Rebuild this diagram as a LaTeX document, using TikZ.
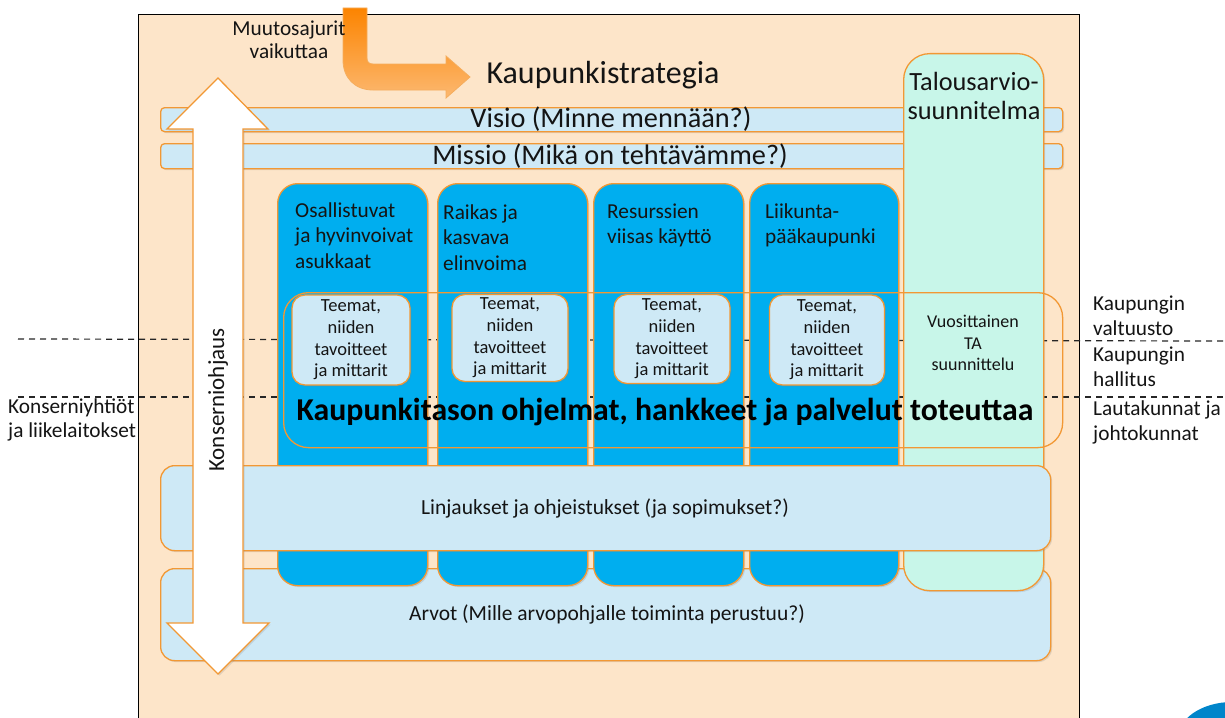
\documentclass[tikz,border=0pt]{standalone}
\usepackage{fontspec}
\setmainfont{Carlito}
\usetikzlibrary{shadows}
\definecolor{peach}{RGB}{253,229,201}
\definecolor{lblue}{RGB}{206,233,246}
\definecolor{cblue}{RGB}{0,174,239}
\definecolor{mint}{RGB}{200,246,233}
\definecolor{orng}{RGB}{242,152,52}
\definecolor{dorng}{RGB}{252,132,0}
\definecolor{lorng}{RGB}{252,184,112}
\definecolor{logoblue}{RGB}{0,133,202}
\definecolor{txt}{RGB}{20,20,20}
\tikzset{
  shad/.style={drop shadow={opacity=0.22,shadow xshift=1.5pt,shadow yshift=-1.5pt}},
  bar/.style={draw=orng, line width=1.3pt, fill=lblue, rounded corners=4pt, shad, text=txt, inner sep=0pt},
  bigbar/.style={draw=orng, line width=1.3pt, fill=lblue, rounded corners=14pt, shad, text=txt, inner sep=0pt},
  colbox/.style={draw=orng, line width=1.3pt, fill=cblue, rounded corners=20pt, shad, inner sep=0pt},
  mintbox/.style={draw=orng, line width=1.3pt, fill=mint, rounded corners=26pt, shad, inner sep=0pt},
  teem/.style={draw=orng, line width=1.3pt, fill=lblue, rounded corners=13pt, shad, align=center, inner sep=0pt, text=txt,
     font=\fontsize{18.5}{21.7}\selectfont},
  coltitle/.style={align=left, inner sep=0pt, text=txt, font=\fontsize{21.3}{25.5}\selectfont},
  lbl/.style={align=left, inner sep=0pt, text=txt, font=\fontsize{21.3}{25}\selectfont},
  dashline/.style={dash pattern=on 6pt off 5pt, line width=1.2pt, draw=black!85},
}
\begin{document}
\begin{tikzpicture}[x=1pt,y=-1pt]
\useasboundingbox (0,0) rectangle (1225,717);
\begin{scope}
\clip (0,0) rectangle (1225,717);
% frame
\node[draw=black, line width=1.3pt, fill=peach, anchor=north west, minimum width=941pt, minimum height=740pt, inner sep=0pt] (frame) at (138,14) {};
% dashed level lines
\coordinate (dl1) at (18,339);
\coordinate (dr1) at (1225,341);
\coordinate (dl2) at (18,397);
\coordinate (dr2) at (1225,397);
\draw[dashline] (dl1) -- (dr1);
\draw[dashline] (dl2) -- (dr2);
% logo fragment
\fill[logoblue] (1232,740) ellipse [x radius=55, y radius=38];
% visio / missio
\node[bar, anchor=north west, minimum width=902pt, minimum height=24pt] (visio) at (160,107) {};
\node[bar, anchor=north west, minimum width=902pt, minimum height=25pt] (missio) at (160,143) {};
\node[text=txt, inner sep=0pt, font=\fontsize{28.3}{32}\selectfont] (visiot) at (611,119) {Visio (Minne mennään?)};
\node[text=txt, inner sep=0pt, font=\fontsize{28.3}{32}\selectfont] (missiot) at (610,156) {Missio (Mikä on tehtävämme?)};
% arvot
\node[bigbar, anchor=north west, minimum width=890pt, minimum height=92pt] (arvot) at (160,568) {};
% columns
\node[colbox, anchor=north west, minimum width=150pt, minimum height=402pt] (c1) at (277,183) {};
\node[colbox, anchor=north west, minimum width=150pt, minimum height=402pt] (c2) at (437,183) {};
\node[colbox, anchor=north west, minimum width=150pt, minimum height=402pt] (c3) at (593,183) {};
\node[colbox, anchor=north west, minimum width=149pt, minimum height=402pt] (c4) at (749,183) {};
\node[mintbox, anchor=north west, minimum width=140pt, minimum height=537pt] (ta) at (903,53) {};
% linjaukset
\node[bigbar, anchor=north west, minimum width=890pt, minimum height=85pt] (linj) at (160,465) {};
\node[text=txt, inner sep=0pt, font=\fontsize{21.5}{25}\selectfont] (linjt) at (605,508) {Linjaukset ja ohjeistukset (ja sopimukset?)};
\node[text=txt, inner sep=0pt, font=\fontsize{21.5}{25}\selectfont] (arvott) at (607,614) {Arvot (Mille arvopohjalle toiminta perustuu?)};
% programmes frame
\node[draw=orng, line width=1.3pt, rounded corners=25pt, anchor=north west, minimum width=779pt, minimum height=155pt, inner sep=0pt] (prog) at (283,292) {};
% column titles
\node[coltitle, anchor=north west] (c1t) at (295,202.5) {Osallistuvat\\ja hyvinvoivat\\asukkaat};
\node[coltitle, anchor=north west] (c2t) at (443,204.5) {Raikas ja\\kasvava\\elinvoima};
\node[coltitle, anchor=north west] (c3t) at (607,203.5) {Resurssien\\viisas käyttö};
\node[coltitle, anchor=north west] (c4t) at (765,203.5) {Liikunta-\\pääkaupunki};
\node[align=center, inner sep=0pt, text=txt, font=\fontsize{26.3}{29}\selectfont, anchor=north] (tat) at (974,72) {Talousarvio-\\suunnitelma};
% teemat
\node[teem, minimum width=118pt, minimum height=90pt] (t1) at (351,340) {Teemat,\\niiden\\tavoitteet\\ja mittarit};
\node[teem, minimum width=116pt, minimum height=87pt] (t2) at (510,338) {Teemat,\\niiden\\tavoitteet\\ja mittarit};
\node[teem, minimum width=116pt, minimum height=89pt] (t3) at (672,339) {Teemat,\\niiden\\tavoitteet\\ja mittarit};
\node[teem, minimum width=115pt, minimum height=90pt] (t4) at (827,340) {Teemat,\\niiden\\tavoitteet\\ja mittarit};
\node[align=center, inner sep=0pt, text=txt, font=\fontsize{18}{21.5}\selectfont] (vta) at (973,343) {Vuosittainen\\TA\\suunnittelu};
\node[inner sep=0pt, text=black, font=\bfseries\fontsize{31.8}{34}\selectfont] (progt) at (665,412) {Kaupunkitason ohjelmat, hankkeet ja palvelut toteuttaa};
% side labels
\node[lbl, anchor=north west] (valt) at (1093,295.5) {Kaupungin\\valtuusto};
\node[lbl, anchor=north west] (hall) at (1093,346.5) {Kaupungin\\hallitus};
\node[lbl, anchor=north west] (laut) at (1093,400.5) {Lautakunnat ja\\johtokunnat};
\node[lbl, anchor=north west, font=\fontsize{21.3}{24}\selectfont] (kons) at (8,398.5) {Konserniyhtiöt\\ja liikelaitokset};
% double arrow
\draw[draw=orng, line width=1.3pt, fill=white, line join=miter, drop shadow={opacity=0.22,shadow xshift=1.5pt,shadow yshift=-1.5pt}]
  (218,78) -- (268,129) -- (243,129) -- (243,623) -- (269,623) -- (218,674) -- (167,623) -- (193,623) -- (193,129) -- (167,129) -- cycle;
\node[rotate=90, inner sep=0pt, text=txt, font=\fontsize{23}{26}\selectfont] (konsohj) at (218,400) {Konserniohjaus};
% change driver arrow
\shade[top color=dorng, bottom color=lorng, draw=orng!80, line width=0.8pt]
  (343,8) -- (343,60) .. controls (343,78) and (355,90) .. (373,90) -- (446,90) -- (446,98) -- (470,77) -- (446,56) -- (446,64) -- (373,64) .. controls (369,64) and (367,62) .. (367,58) -- (367,8) -- cycle;
\node[align=center, inner sep=0pt, text=txt, font=\fontsize{21.3}{23}\selectfont, anchor=north] (muut) at (289,20.5) {Muutosajurit\\vaikuttaa};
\node[inner sep=0pt, text=txt, font=\fontsize{32}{36}\selectfont] (strat) at (603,75) {Kaupunkistrategia};
\end{scope}
\end{tikzpicture}
\end{document}
